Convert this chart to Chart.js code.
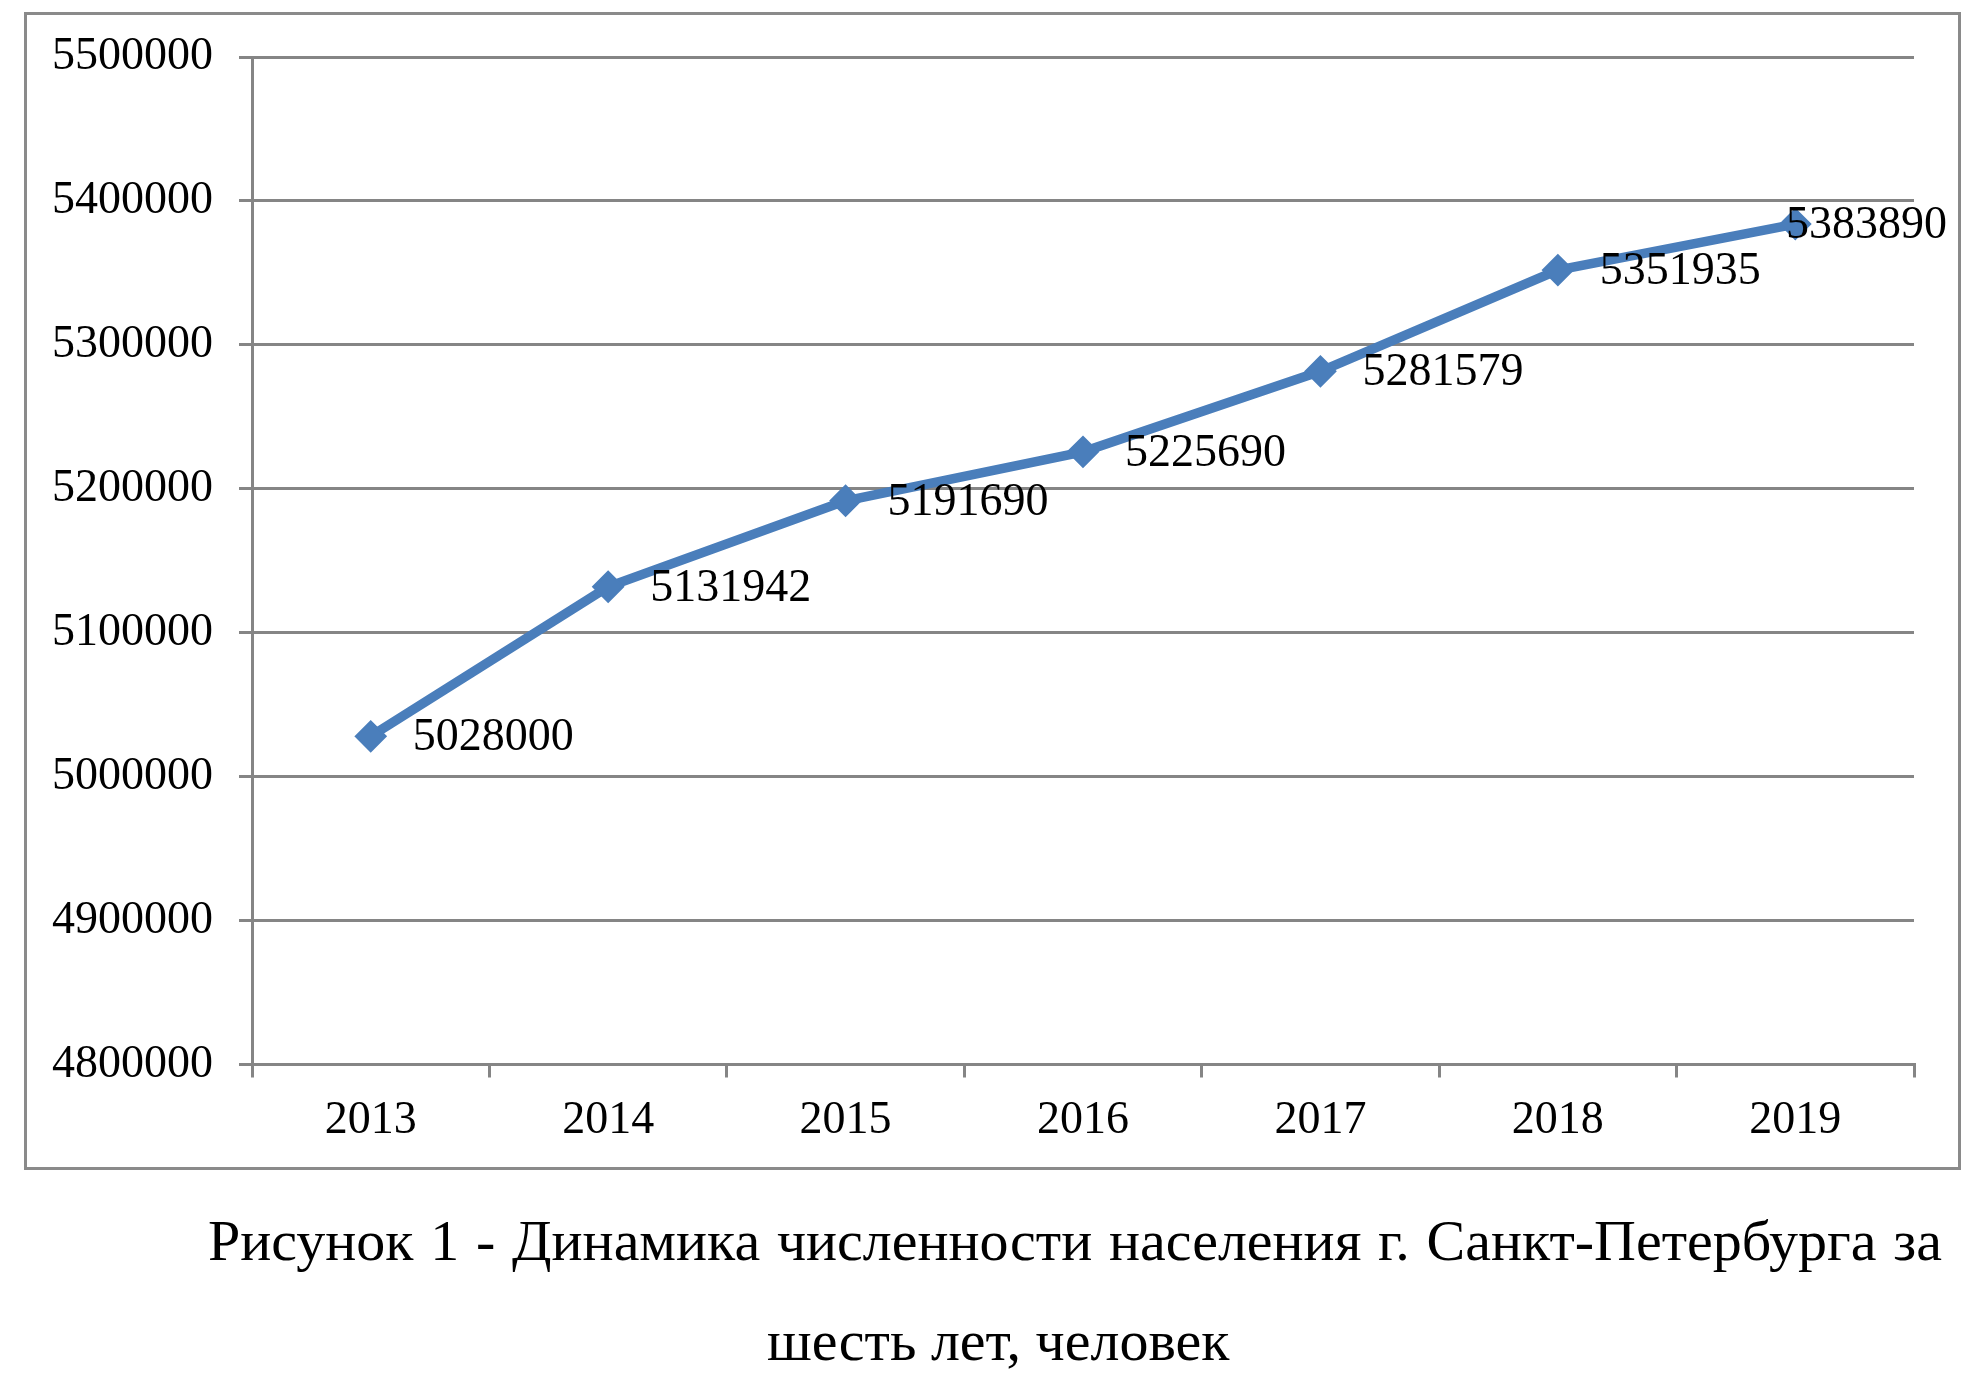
<!DOCTYPE html>
<html>
<head>
<meta charset="utf-8">
<script src="https://cdn.jsdelivr.net/npm/chart.js@4"></script>
<style>
  html, body { margin: 0; padding: 0; background: #fff; }
  #page { position: relative; width: 1973px; height: 1393px; overflow: hidden; }
  #frame {
    position: absolute; left: 24px; top: 12px; width: 1931px; height: 1152px;
    border: 3px solid #8a8a8a;
  }
  #chart { position: absolute; left: 0; top: 0; }
  .caption {
    position: absolute; font-family: "Liberation Serif", "Times New Roman", serif;
    font-size: 58px; line-height: 58px; color: #000; white-space: nowrap;
  }
  #cap1 { left: 208px; top: 1212px; width: 1734px; text-align: justify; text-align-last: justify; white-space: normal; }
  #cap2 { left: 767px; top: 1312px; }
</style>
</head>
<body>
<div id="page">
  <div id="frame"></div>
  <canvas id="chart" width="1973" height="1393"></canvas>
  <div class="caption" id="cap1">Рисунок 1 - Динамика численности населения г. Санкт-Петербурга за</div>
  <div class="caption" id="cap2">шесть лет, человек</div>
</div>
<script>
const years = ['2013', '2014', '2015', '2016', '2017', '2018', '2019'];
const population = [5028000, 5131942, 5191690, 5225690, 5281579, 5351935, 5383890];
const yTickValues = [4800000, 4900000, 5000000, 5100000, 5200000, 5300000, 5400000, 5500000];

const gridGray = '#858585';
const lineBlue = '#4A7EBB';
const serif = '"Liberation Serif", "Times New Roman", serif';

// подписи значений справа от точек
const pointLabels = {
  id: 'pointLabels',
  afterDatasetsDraw(chart) {
    const ctx = chart.ctx;
    const meta = chart.getDatasetMeta(0);
    ctx.save();
    ctx.font = '46px ' + serif;
    ctx.fillStyle = '#000';
    ctx.textBaseline = 'middle';
    ctx.textAlign = 'left';
    meta.data.forEach(function (pt, i) {
      const text = String(population[i]);
      const w = ctx.measureText(text).width;
      let x = pt.x + 42;
      if (x + w > 1947) x = 1947 - w;
      ctx.fillText(text, x, pt.y + 2);
    });
    ctx.restore();
  }
};

new Chart(document.getElementById('chart'), {
  type: 'line',
  data: {
    labels: years,
    datasets: [{
      data: population,
      borderColor: lineBlue,
      backgroundColor: lineBlue,
      borderWidth: 9.5,
      tension: 0,
      pointStyle: 'rectRot',
      pointRadius: 15,
      pointBorderWidth: 2,
      pointBackgroundColor: lineBlue,
      pointBorderColor: lineBlue,
      pointHoverRadius: 15
    }]
  },
  options: {
    responsive: false,
    animation: false,
    events: [],
    layout: { padding: { left: 0, top: 57, right: 59, bottom: 0 } },
    plugins: {
      legend: { display: false },
      title: { display: false },
      tooltip: { enabled: false }
    },
    scales: {
      x: {
        offset: true,
        afterFit: function (scale) { scale.height = 328.5; },
        grid: {
          offset: true,
          drawOnChartArea: false,
          drawTicks: true,
          tickLength: 13,
          color: gridGray,
          lineWidth: 3
        },
        border: { display: true, color: gridGray, width: 3 },
        ticks: {
          padding: 16,
          maxRotation: 0,
          minRotation: 0,
          color: '#000',
          font: { family: serif, size: 46 }
        }
      },
      y: {
        min: yTickValues[0],
        max: yTickValues[yTickValues.length - 1],
        afterFit: function (scale) { scale.width = 252; },
        afterBuildTicks: function (scale) {
          scale.ticks = yTickValues.map(function (v) { return { value: v }; });
        },
        grid: {
          drawTicks: true,
          tickLength: 13,
          color: gridGray,
          lineWidth: 3
        },
        border: { display: true, color: gridGray, width: 3 },
        ticks: {
          padding: 26,
          color: '#000',
          font: { family: serif, size: 46 },
          callback: function (value) { return String(value); }
        }
      }
    }
  },
  plugins: [pointLabels]
});
</script>
</body>
</html>
